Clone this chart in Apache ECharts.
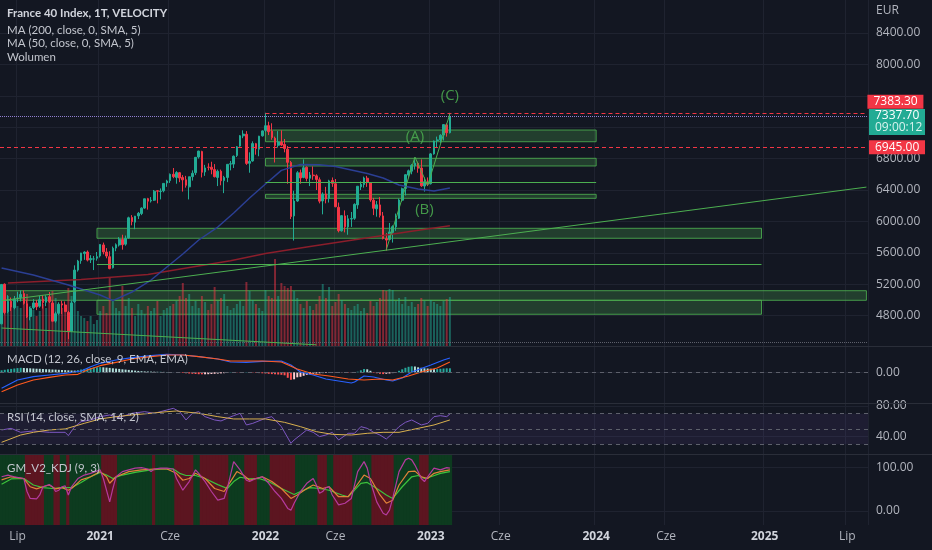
<!DOCTYPE html>
<html><head><meta charset="utf-8">
<script src="https://cdn.jsdelivr.net/npm/echarts@6/dist/echarts.min.js"></script>
<style>html,body{margin:0;padding:0;background:#131722;}#c{width:932px;height:550px;}</style>
</head><body><div id="c"></div>
<script>
// ---------------- DATA ----------------
const weeklyOpen = [4695,5200,4850,4980,4900,5020,5030,5080,4950,4790,
4900,4960,4920,5010,4970,5040,4960,4730,4830,4950,
4935,4840,4600,4980,5380,5500,5590,5610,5510,5520,
5530,5560,5700,5610,5550,5410,5660,5700,5770,5710,
5790,6050,5990,6070,6100,6170,6290,6260,6270,6390,
6380,6390,6490,6520,6600,6560,6620,6560,6530,6440,
6570,6620,6820,6890,6630,6690,6690,6660,6560,6640,
6520,6560,6730,6730,6840,6960,7090,7110,6740,6770,
6990,6920,7090,7160,7220,7150,7060,6970,7010,6980,
6920,6750,6070,6260,6620,6560,6690,6550,6590,6580,
6530,6260,6350,6290,6520,6480,6180,5880,6070,5930,
6030,6040,6210,6440,6470,6550,6490,6270,6160,6210,
6070,5780,5770,5860,5930,6040,6270,6420,6590,6640,
6710,6740,6680,6450,6500,6480,6860,7030,7040,7100,
7230,7130];
const weeklyHigh = [5200,5210,5060,5030,5050,5105,5120,5120,4995,4910,
5010,5000,5050,5060,5060,5100,4990,4850,4970,4990,
4980,4860,4985,5440,5510,5600,5620,5630,5570,5560,
5610,5710,5730,5660,5620,5680,5720,5800,5830,5820,
6060,6080,6070,6120,6180,6290,6300,6310,6400,6400,
6420,6480,6530,6610,6680,6640,6630,6590,6580,6570,
6650,6820,6900,6900,6720,6740,6760,6730,6660,6660,
6580,6730,6770,6840,6960,7100,7160,7150,6880,7020,
7000,7090,7160,7384,7270,7250,7080,7150,7160,7050,
6960,6770,6390,6640,6660,6790,6700,6630,6700,6600,
6560,6370,6440,6530,6560,6540,6240,6080,6140,6080,
6120,6230,6450,6510,6570,6580,6500,6300,6260,6310,
6120,5850,5980,5950,6100,6290,6430,6600,6660,6730,
6790,6760,6790,6560,6560,6870,7030,7080,7110,7240,
7250,7383.3];
const weeklyLow = [4690,4815,4830,4860,4880,4970,4980,4940,4770,4740,
4880,4870,4900,4890,4920,4960,4740,4710,4810,4820,
4850,4500,4590,4960,5360,5460,5510,5490,5470,5380,
5500,5540,5580,5530,5390,5400,5620,5680,5640,5690,
5780,5950,5900,6030,6080,6160,6150,6240,6260,6230,
6280,6370,6440,6490,6550,6480,6500,6380,6430,6280,
6520,6590,6800,6560,6580,6650,6600,6560,6450,6460,
6360,6500,6650,6680,6820,6950,7060,6720,6620,6760,
6850,6830,7080,7140,7100,7040,6750,6940,6960,6880,
6480,6030,5756,6250,6480,6550,6510,6450,6530,6400,
6230,6090,6230,6240,6440,6180,5860,5870,5860,5830,
5930,6020,6160,6400,6430,6440,6250,6080,6060,6050,
5770,5628,5760,5730,5880,6030,6250,6330,6550,6600,
6660,6620,6440,6380,6450,6470,6850,6940,7000,7030,
7080,7120];
const weeklyClose = [5197,4839,4979,4909,5007,5023,5069,4956,4783,4889,
4962,4911,5002,4965,5034,4978,4729,4824,4946,4935,
4851,4594,4960,5380,5495,5598,5609,5507,5527,5522,
5551,5706,5611,5559,5399,5659,5703,5773,5703,5782,
6046,5997,6067,6103,6169,6288,6258,6269,6385,6385,
6386,6484,6515,6600,6569,6622,6552,6529,6460,6568,
6613,6816,6896,6626,6681,6689,6663,6570,6638,6518,
6560,6727,6734,6830,6950,7091,7112,6739,6765,6991,
6927,7086,7153,7219,7143,7068,6965,7011,6973,6929,
6752,6062,6260,6620,6553,6684,6548,6590,6582,6534,
6258,6348,6285,6516,6485,6187,5882,6073,5931,6033,
6036,6217,6448,6472,6553,6495,6274,6167,6212,6077,
5783,5762,5866,5932,6036,6273,6416,6595,6645,6712,
6742,6677,6453,6505,6474,6860,7024,7038,7097,7233,
7130,7337.7];
const weeklyVolume = [55,62,50,45,48,40,38,44,52,40,
36,30,35,42,38,45,55,48,42,38,
40,58,50,45,35,30,28,25,30,22,
26,35,40,33,68,45,38,35,60,40,
48,38,30,42,36,32,40,35,38,45,
30,36,38,40,42,45,50,63,48,52,
40,45,38,50,44,36,42,59,45,48,
52,40,36,38,42,45,40,64,55,46,
42,38,35,56,50,48,87,50,63,60,
58,60,55,48,42,38,45,40,36,42,
50,62,48,59,40,44,52,46,42,38,
36,40,42,35,38,33,45,40,44,48,
56,55,57,56,45,48,42,49,40,44,
39,42,48,45,40,46,44,42,40,45,
47,49];
// moving averages: [week index, price]
const ma200Points = [[2,5215],[25,5260],[46,5325],[60,5420],[72,5500],[83,5590],[97,5680],[110,5760],[120,5820],[130,5880],[141,5945]];
const ma50Points = [[0,5406],[10,5317],[21,5190],[31,5062],[35,4990],[41,5100],[47,5253],[52,5419],[57,5585],[62,5763],[68,5928],[73,6107],[78,6298],[83,6476],[88,6650],[94,6725],[100,6722],[105,6700],[110,6655],[115,6610],[120,6553],[125,6464],[131,6413],[136,6387],[141,6426]];
// MACD pane
const macdLine = [[0,-160],[5,-77],[10,-44],[15,-27],[20,-10],[25,13],[28,56],[31,90],[36,123],[41,146],[47,166],[52,180],[57,173],[62,156],[68,133],[72,103],[77,100],[82,110],[88,113],[91,73],[94,3],[98,-27],[102,-67],[106,-87],[110,-107],[111,-97],[114,-37],[117,-47],[121,-77],[123,-87],[126,-57],[129,3],[135,73],[139,123],[141,143]];
const macdSignal = [[0,-194],[5,-127],[10,-77],[15,-50],[20,-27],[24,-20],[27,23],[31,66],[36,100],[41,133],[47,156],[52,173],[57,173],[62,156],[68,133],[72,113],[82,113],[88,103],[93,33],[98,-17],[103,-37],[109,-67],[114,-77],[119,-67],[123,-77],[128,-37],[132,3],[137,43],[141,103]];
const macdHist = [20,25,30,34,38,42,45,
43,41,40,38,36,35,33,31,30,28,27,25,24,22,20,18,17,
22,28,34,40,44,48,50,52,
50,47,44,40,37,34,30,27,24,20,17,14,11,
9,8,7,6,5,5,4,3,2,1,0,
-3,-6,-9,-12,-15,-17,-19,-20,-20,-19,-17,-15,-13,-11,-9,-7,
3,2,-2,-3,2,3,-2,-3,-5,-8,
-10,-12,-15,-18,-20,-22,-25,-30,
-55,-75,-70,
-50,-45,-35,-25,
-20,-15,-12,-10,-8,-6,-5,-4,-3,-2,-2,-3,-4,-2,2,6,
20,33,30,15,
-5,-10,-15,-18,-15,-12,-8,-3,
15,30,45,55,60,58,
50,45,40,38,36,
30,32,35,38,40,40];
// RSI pane
const rsiLine = [[0,48.8],[3,50.9],[6,45.7],[10,47.5],[15,45.7],[20,45.7],[21,41.4],[23,53.1],[25,59.6],[28,61.8],[31,66.1],[34,68.3],[37,64.8],[41,70.5],[45,72.6],[48,70.5],[52,74.8],[54,77.0],[56,72.6],[58,61.8],[60,70.5],[62,72.6],[64,66.1],[67,61.8],[69,60.5],[71,64.0],[73,67.4],[75,70.5],[77,55.3],[79,57.4],[83,64.0],[85,66.1],[88,53.1],[91,31.4],[92,35.7],[94,42.2],[96,48.8],[98,45.7],[100,40.1],[102,42.2],[104,45.7],[106,35.7],[109,44.4],[111,44.4],[113,53.1],[115,50.9],[117,45.7],[119,42.2],[121,37.0],[123,44.4],[125,53.1],[127,58.7],[129,61.8],[132,55.3],[134,57.4],[136,66.1],[138,67.4],[140,66.1],[141,69.6]];
const rsiMa = [[0,32.7],[6,42.2],[10,45.7],[15,48.8],[20,50.1],[26,57.4],[31,63.1],[36,66.1],[41,68.3],[47,70.5],[52,72.6],[55,73.5],[62,70.5],[68,66.1],[73,63.1],[78,63.1],[83,63.1],[89,58.7],[94,53.1],[99,46.6],[104,43.1],[110,42.2],[115,44.4],[120,45.7],[125,45.7],[131,50.9],[136,55.3],[141,61.8]];
// KDJ pane
const kdjK = [[0,72],[3,79],[7,75],[9,56],[11,51],[13,56],[15,60],[17,51],[19,54],[21,48],[22,52],[25,72],[28,79],[31,91],[33,79],[34,64],[36,79],[40,91],[44,95],[48,97],[52,97],[55,87],[57,71],[59,75],[61,87],[64,75],[67,52],[70,45],[72,68],[74,91],[76,83],[78,71],[80,75],[82,79],[85,68],[88,52],[91,29],[93,37],[96,52],[98,60],[101,52],[103,56],[106,33],[109,33],[111,52],[114,83],[116,75],[119,37],[121,18],[123,25],[125,60],[128,91],[130,92],[132,79],[134,75],[136,87],[138,91],[141,95]];
const kdjD = [[0,62],[3,74],[7,75],[10,60],[13,54],[16,52],[19,54],[22,54],[25,66],[28,79],[31,89],[33,83],[35,75],[38,83],[42,89],[46,94],[50,97],[54,97],[56,87],[58,82],[61,82],[64,75],[68,61],[71,52],[73,68],[75,78],[78,74],[81,75],[84,68],[88,52],[92,38],[94,45],[97,54],[100,52],[103,48],[107,37],[109,33],[111,48],[113,64],[115,66],[118,52],[121,37],[123,29],[126,56],[129,79],[131,82],[133,75],[135,79],[138,87],[141,91]];
const kdjJ = [[0,79],[2,83],[4,79],[7,75],[8,45],[9,29],[11,28],[12,37],[13,56],[15,61],[16,56],[17,45],[18,48],[19,56],[20,58],[21,37],[22,56],[24,75],[26,83],[28,87],[31,95],[32,75],[34,21],[35,52],[36,79],[38,91],[40,95],[42,99],[44,100],[46,97],[47,91],[48,97],[50,99],[52,99],[54,97],[55,75],[57,48],[59,68],[61,95],[62,87],[64,68],[66,45],[68,25],[70,29],[71,52],[73,114],[75,95],[77,71],[78,68],[80,75],[82,79],[84,64],[86,45],[88,29],[90,6],[91,2],[92,18],[94,45],[96,64],[98,75],[99,60],[100,41],[101,45],[102,54],[103,56],[104,37],[106,14],[108,18],[110,29],[112,91],[114,114],[115,99],[116,68],[118,21],[120,-5],[121,-9],[122,2],[123,29],[125,91],[127,118],[128,122],[129,118],[130,106],[131,91],[132,75],[133,68],[134,79],[136,99],[138,95],[140,100],[141,99]];
const kdjRedRanges = [[8,13],[17,18],[21,21],[32,36],[48,48],[55,60],[63,71],[77,80],[85,92],[100,102],[105,110],[117,123],[132,134]];
// axis ticks
const tickDates = ['2020-07-06','2021-01-04','2021-06-07','2022-01-03','2022-06-06','2023-01-02','2023-06-05','2024-01-01','2024-06-03','2025-01-06','2025-07-07'];
const tickTexts = ['Lip','2021','Cze','2022','Cze','2023','Cze','2024','Cze','2025','Lip'];
const priceTicks = [4800,5200,5600,6000,6400,6800,7200,7600,8000,8400];
const priceLabels = [4800,5200,5600,6000,6400,6800,8000,8400];
// drawings on the price pane: [fromWeek, fromPrice, toWeek, toPrice]
const zones = [[83,7164,187,7015],[83,6804,187,6706],[83,6345,187,6294],[30,5912,239,5785],[0,5117,272,4995],[30,4995,239,4817]];
const levelLines = [[83,6498,187,6498],[30,5454,239,5454]];
const trendLines = [[0,4990,272,6437],[0,4642,99,4428]];
const wavePoints = [[121,5640],[130,6820],[134,6460],[141,7370]];
const waveLabels = [['(A)',130,7075],['(B)',133,6145],['(C)',141,7597]];
const athWeek = 83, athPrice = 7383.3, lastPrice = 7337.7, refPrice = 6945, countdown = '09:00:12';

// ---------------- BUILD ----------------
const FONT = "'Open Sans', sans-serif";
const LFONT = "Lato, 'Open Sans', sans-serif";
const weekCount = 273;
const firstWeekUTC = Date.UTC(2020, 5, 1);
const weeks = [];
for (let k = 0; k < weekCount; k++) weeks.push(new Date(firstWeekUTC + k * 604800000).toISOString().slice(0, 10));
const UP = '#22ab94', DOWN = '#f23645';
const gridColor = '#1f2330';
const axisText = '#b2b5be';
const isTick = (i, v) => tickDates.indexOf(v) >= 0;

const candleData = weeklyOpen.map((o, i) => [o, weeklyClose[i], weeklyLow[i], weeklyHigh[i]]);
const volumeData = weeklyVolume.map((v, i) => ({ value: v, itemStyle: { color: weeklyClose[i] >= weeklyOpen[i] ? 'rgba(34,171,148,0.5)' : 'rgba(242,54,69,0.5)' } }));
const histData = macdHist.map((v, i) => {
  const p = i ? macdHist[i - 1] : v;
  const c = v >= 0 ? (v >= p ? '#26a69a' : '#b2dfdb') : (v < p ? '#ff5252' : '#ffcdd2');
  return { value: v, itemStyle: { color: c } };
});
const bandState = weeklyClose.map((_, i) => kdjRedRanges.some(r => i >= r[0] && i <= r[1]) ? 1 : 0);

function xAxisFor(gridIndex, showLabel) {
  return {
    type: 'category', gridIndex, data: weeks, boundaryGap: true,
    axisLine: { show: false }, axisTick: { show: false },
    axisLabel: {
      show: showLabel, interval: isTick, margin: 6, color: axisText, fontSize: 12, fontFamily: FONT,
      formatter: v => { const t = tickTexts[tickDates.indexOf(v)]; return /^\d{4}$/.test(t) ? '{y|' + t + '}' : t; },
      rich: { y: { fontWeight: 'bold', color: '#d1d4dc', fontSize: 12, fontFamily: FONT } }
    },
    splitLine: { show: gridIndex !== 4, interval: isTick, lineStyle: { color: gridColor, width: 1 } }
  };
}
function yAxisFor(gridIndex, min, max, labels, ticks, show) {
  return {
    type: 'value', gridIndex, position: 'right', min, max, scale: true,
    axisLine: { show: false },
    axisTick: { show: false, customValues: ticks },
    axisLabel: { show: show, customValues: labels, formatter: v => v.toFixed(2), color: axisText, fontSize: 12, fontFamily: FONT, margin: 8 },
    splitLine: { show: show, lineStyle: { color: gridColor, width: 1 } }
  };
}
const lineSeries = (name, data, color, xi, yi, width) => ({
  name, type: 'line', xAxisIndex: xi, yAxisIndex: yi, data, showSymbol: false, symbol: 'none',
  lineStyle: { color, width: width || 1 }, itemStyle: { color }, z: 4, silent: true
});

const greenLine = { color: '#4caf50', width: 1, type: 'solid' };
const markLines = [];
const boxRich = (bg) => ({ backgroundColor: bg, color: '#ffffff', fontSize: 12, fontFamily: FONT, height: 12, width: 44, padding: [1, 6, 1, 6] });
markLines.push([
  { coord: [athWeek, athPrice], lineStyle: { color: DOWN, type: [4, 3], width: 1 },
    label: { show: true, position: 'end', distance: 1, formatter: '{a|' + athPrice.toFixed(2) + '}\n{s| }',
      rich: { a: boxRich(DOWN), s: { height: 22, fontSize: 1 } } } },
  { coord: [weekCount - 1, athPrice] }
]);
markLines.push({ yAxis: lastPrice, lineStyle: { color: '#8f7fd0', type: 'dotted', width: 1 },
  label: { show: true, position: 'end', distance: 1, formatter: '{s| }\n{a|' + lastPrice.toFixed(2) + '}\n{b|' + countdown + '}',
    rich: { s: { height: 11, fontSize: 1 },
      a: { backgroundColor: UP, color: '#ffffff', fontSize: 12, fontFamily: FONT, height: 12, width: 44, padding: [1, 6, 0, 6] },
      b: { backgroundColor: UP, color: '#d8f3ee', fontSize: 12, fontFamily: FONT, height: 12, width: 44, padding: [0, 6, 1, 6] } } } });
markLines.push({ yAxis: refPrice, lineStyle: { color: DOWN, type: [4, 3], width: 1 },
  label: { show: true, position: 'end', distance: 1, formatter: '{a|' + refPrice.toFixed(2) + '}', rich: { a: boxRich(DOWN) } } });
levelLines.concat(trendLines).forEach(l => markLines.push([{ coord: [l[0], l[1]], lineStyle: greenLine }, { coord: [l[2], l[3]] }]));
for (let k = 0; k < wavePoints.length - 1; k++) markLines.push([{ coord: wavePoints[k], lineStyle: greenLine }, { coord: wavePoints[k + 1] }]);

const legendText = (text, top, bold) => ({ type: 'text', left: 7, top, z: 60,
  style: { text, fill: bold ? '#d1d4dc' : '#c3c6ce', fontSize: bold ? 11.5 : 11.5, fontWeight: bold ? 'bold' : 'normal', fontFamily: LFONT } });

const option = {
  backgroundColor: '#131722',
  animation: false,
  textStyle: { fontFamily: FONT },
  grid: [
    { left: 0, right: 64, top: 0, height: 346 },
    { left: 0, right: 64, top: 347, height: 56 },
    { left: 0, right: 64, top: 404, height: 50 },
    { left: 0, right: 64, top: 455, height: 70 },
    { left: 0, right: 64, top: 246, height: 100 }
  ],
  xAxis: [xAxisFor(0, false), xAxisFor(1, false), xAxisFor(2, false), xAxisFor(3, true), xAxisFor(4, false)],
  yAxis: [
    yAxisFor(0, 4412.7, 8820.4, priceLabels, priceTicks, true),
    yAxisFor(1, -307, 253, [0], [0], true),
    yAxisFor(2, 17.46, 82.6, [40, 80], [40, 80], true),
    yAxisFor(3, -32.3, 129.3, [0, 100], [0, 100], true),
    { type: 'value', gridIndex: 3, min: 0, max: 1, show: false },
    { type: 'value', gridIndex: 4, min: 0, max: 100, show: false }
  ],
  series: [
    { type: 'custom', xAxisIndex: 3, yAxisIndex: 4, z: 1, silent: true, clip: true,
      data: bandState.map((s, i) => [i, s]),
      renderItem: (params, api) => {
        const p0 = api.coord([api.value(0), 1]);
        const p1 = api.coord([api.value(0), 0]);
        const w = api.size([1, 0])[0];
        return { type: 'rect', shape: { x: p0[0] - w / 2 - 0.6, y: p0[1], width: w + 1.2, height: p1[1] - p0[1] },
          style: { fill: api.value(1) ? '#5c1520' : '#0d3b1f' } };
      } },
    { type: 'bar', xAxisIndex: 4, yAxisIndex: 5, data: volumeData, barWidth: '62%', z: 1, silent: true,
      markLine: { silent: true, symbol: ['none', 'none'], label: { show: false },
        data: [{ yAxis: 4, lineStyle: { color: '#5d606b', type: 'dotted', width: 1 } }] } },
    { type: 'candlestick', xAxisIndex: 0, yAxisIndex: 0, data: candleData, barWidth: '68%', z: 3, silent: true,
      itemStyle: { color: UP, color0: DOWN, borderColor: UP, borderColor0: DOWN, borderWidth: 1 },
      markArea: { silent: true, itemStyle: { color: 'rgba(76,175,80,0.26)', borderColor: 'rgba(76,175,80,0.85)', borderWidth: 1 },
        data: zones.map(z => [{ coord: [z[0], z[1]] }, { coord: [z[2], z[3]] }]) },
      markLine: { silent: true, symbol: ['none', 'none'], label: { show: false }, data: markLines },
      markPoint: { silent: true, symbol: 'rect', symbolSize: 1, itemStyle: { color: 'rgba(0,0,0,0)' },
        label: { show: true, position: 'inside', formatter: '{b}', color: 'rgba(76,175,80,0.85)', fontSize: 15, fontFamily: FONT },
        data: waveLabels.map(w => ({ name: w[0], coord: [w[1], w[2]] })) } },
    lineSeries('MA200', ma200Points, '#8b1e2b', 0, 0, 1.5),
    lineSeries('MA50', ma50Points, '#2b3f94', 0, 0, 1.5),
    { type: 'bar', xAxisIndex: 1, yAxisIndex: 1, data: histData, barWidth: '62%', silent: true,
      markLine: { silent: true, symbol: ['none', 'none'], label: { show: false },
        data: [{ yAxis: 0, lineStyle: { color: '#5d606b', type: [4, 4], width: 1 } }] } },
    lineSeries('MACD', macdLine, '#2962ff', 1, 1, 1.2),
    lineSeries('Signal', macdSignal, '#ff5a1f', 1, 1, 1.2),
    Object.assign(lineSeries('RSI', rsiLine, '#7e57c2', 2, 2, 1), {
      markArea: { silent: true, itemStyle: { color: 'rgba(126,87,194,0.1)' }, data: [[{ yAxis: 30 }, { yAxis: 70 }]] },
      markLine: { silent: true, symbol: ['none', 'none'], label: { show: false },
        lineStyle: { color: '#5d606b', type: [4, 4], width: 1 }, data: [{ yAxis: 70 }, { yAxis: 50 }, { yAxis: 30 }] } }),
    lineSeries('RSI MA', rsiMa, '#d8b04e', 2, 2, 1),
    lineSeries('D', kdjD, '#3cc23c', 3, 3, 1.2),
    lineSeries('K', kdjK, '#e0823a', 3, 3, 1.2),
    lineSeries('J', kdjJ, '#b43a9e', 3, 3, 1.2)
  ],
  graphic: [
    { type: 'line', shape: { x1: 0, y1: 346.5, x2: 932, y2: 346.5 }, style: { stroke: '#2a2e39', lineWidth: 1 }, z: 50 },
    { type: 'line', shape: { x1: 0, y1: 403.5, x2: 932, y2: 403.5 }, style: { stroke: '#2a2e39', lineWidth: 1 }, z: 50 },
    { type: 'line', shape: { x1: 0, y1: 454.5, x2: 932, y2: 454.5 }, style: { stroke: '#2a2e39', lineWidth: 1 }, z: 50 },
    legendText('France 40 Index, 1T, VELOCITY', 7, true),
    legendText('MA (200, close, 0, SMA, 5)', 24, false),
    legendText('MA (50, close, 0, SMA, 5)', 37, false),
    legendText('Wolumen', 51, false),
    { type: 'text', left: 876, top: 5, z: 60, style: { text: 'EUR', fill: axisText, fontSize: 12, fontFamily: FONT } },
    legendText('MACD (12, 26, close, 9, EMA, EMA)', 353, false),
    legendText('RSI (14, close, SMA, 14, 2)', 411, false),
    legendText('GM_V2_KDJ (9, 3)', 462, false)
  ]
};
const chart = echarts.init(document.getElementById('c'), null, { renderer: 'canvas' });
chart.setOption(option);
</script></body></html>
